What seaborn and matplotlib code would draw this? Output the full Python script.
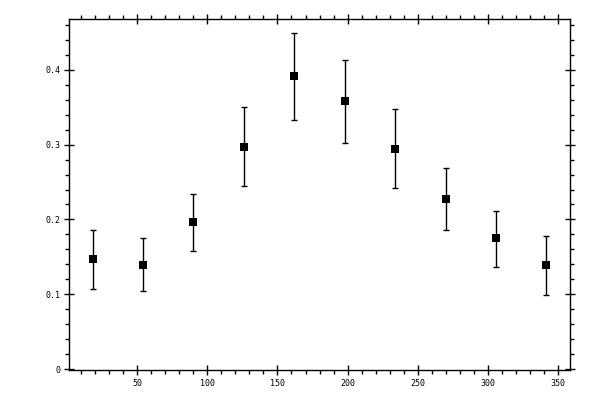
import numpy as np
import pandas as pd
import matplotlib
matplotlib.use('Agg')
import matplotlib.pyplot as plt
import seaborn as sns
from matplotlib.ticker import MultipleLocator

angle = [18, 54, 90, 126, 162, 198, 234, 270, 306, 342]
value = [0.147, 0.139, 0.196, 0.297, 0.392, 0.359, 0.294, 0.227, 0.175, 0.139]
upper = [0.186, 0.175, 0.234, 0.350, 0.449, 0.413, 0.347, 0.269, 0.211, 0.178]
lower = [0.107, 0.104, 0.158, 0.245, 0.333, 0.302, 0.242, 0.186, 0.137, 0.099]

df = pd.DataFrame({'angle': angle, 'value': value, 'upper': upper, 'lower': lower})

sns.set_style('ticks')
plt.rcParams['font.family'] = ['DejaVu Sans Mono', 'DejaVu Sans']

fig = plt.figure(figsize=(6, 4), dpi=100)
ax = fig.add_axes([0.1155, 0.075, 0.8345, 0.8775])

yerr = np.array([df['value'] - df['lower'], df['upper'] - df['value']])
ax.errorbar(df['angle'], df['value'], yerr=yerr, fmt='none', ecolor='black',
            elinewidth=1, capsize=2, capthick=1, zorder=2)
sns.scatterplot(data=df, x='angle', y='value', marker='s', s=34, color='black',
                edgecolor='black', linewidth=0, ax=ax, zorder=3, legend=False)

ax.set_xlim(1.4, 358.8)
ax.set_ylim(-0.0013, 0.468)
ax.xaxis.set_major_locator(MultipleLocator(50))
ax.xaxis.set_minor_locator(MultipleLocator(10))
ax.yaxis.set_major_locator(MultipleLocator(0.1))
ax.yaxis.set_minor_locator(MultipleLocator(0.02))
ax.set_xticks([50, 100, 150, 200, 250, 300, 350])
ax.set_yticks([0, 0.1, 0.2, 0.3, 0.4])
ax.set_yticklabels(['0', '0.1', '0.2', '0.3', '0.4'])

for s in ax.spines.values():
    s.set_visible(True)
    s.set_linewidth(1)
    s.set_color('black')

ax.tick_params(which='major', direction='inout', length=7, width=1,
               top=True, right=True, labelsize=6, pad=3, colors='black')
ax.tick_params(which='minor', direction='out', length=3, width=1,
               top=True, right=True, colors='black')

ax.set_xlabel('')
ax.set_ylabel('')

fig.savefig('out.png', dpi=100)
